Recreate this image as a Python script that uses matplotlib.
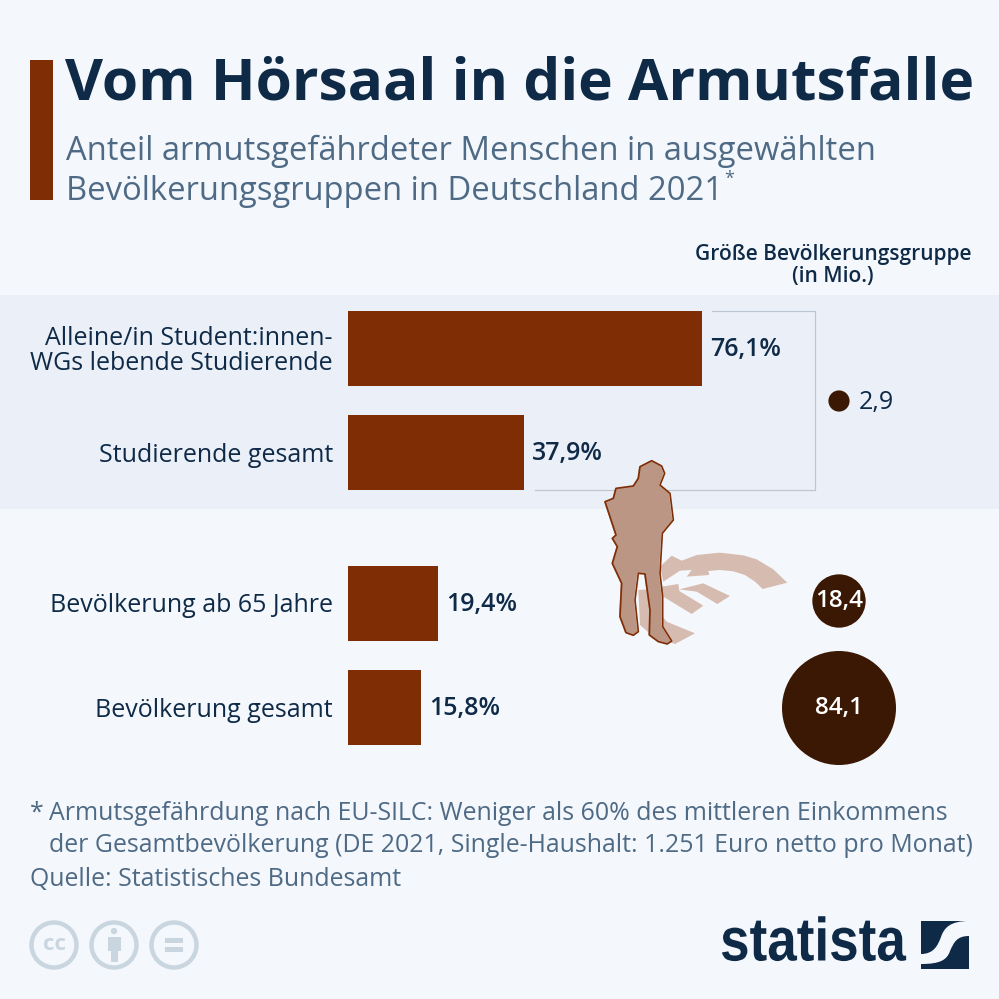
import numpy as np
import matplotlib
matplotlib.use("Agg")
import matplotlib.pyplot as plt
from matplotlib.patches import Polygon, Rectangle, Circle, PathPatch
from matplotlib.path import Path
from matplotlib.patheffects import AbstractPathEffect
from matplotlib.transforms import Affine2D

# ---- data ----
categories = ["Alleine/in Student:innen-\nWGs lebende Studierende", "Studierende gesamt",
              "Bevölkerung ab 65 Jahre", "Bevölkerung gesamt"]
shares = [76.1, 37.9, 19.4, 15.8]
group_sizes = [2.9, 18.4, 84.1]
size_labels = ["2,9", "18,4", "84,1"]
title = "Vom Hörsaal in die Armutsfalle"
subtitle = ["Anteil armutsgefährdeter Menschen in ausgewählten", "Bevölkerungsgruppen in Deutschland 2021"]
size_header = "Größe Bevölkerungsgruppe\n(in Mio.)"
notes = ["Armutsgefährdung nach EU-SILC: Weniger als 60% des mittleren Einkommens",
         "der Gesamtbevölkerung (DE 2021, Single-Haushalt: 1.251 Euro netto pro Monat)",
         "Quelle: Statistisches Bundesamt"]

BG = "#f4f8fc"; BAND = "#ebf0f8"; BAR = "#7f2d04"; DARK = "#3a1803"
NAVY = "#0f2a47"; SLATE = "#4f6a85"; LINE = "#bcc7d3"; CC = "#c9d6df"; TAN = "#bc9684"; TAN2 = "#d6bcb0"

plt.rcParams["font.family"] = ["Open Sans", "DejaVu Sans"]
fig = plt.figure(figsize=(9.99, 9.99), dpi=100, facecolor=BG)

ax = fig.add_axes([0, 0, 1, 1])
ax.set_xlim(0, 999); ax.set_ylim(999, 0); ax.axis("off")

ax.add_patch(Rectangle((0, 295), 999, 214, fc=BAND, ec="none", zorder=0))
ax.add_patch(Rectangle((30, 60), 23, 140, fc=BAR, ec="none"))

ax.text(65, 85, title, fontsize=42.1, fontweight="bold", color=NAVY, va="center", ha="left")
ax.text(66, 151, subtitle[0], fontsize=23.55, color=SLATE, va="center", ha="left")
ax.text(66, 191, subtitle[1], fontsize=23.55, color=SLATE, va="center", ha="left")
ax.text(724, 179, "*", fontsize=13, color=SLATE, va="center", ha="left")
ax.text(833, 265.5, size_header, fontsize=15.0, fontweight="semibold", color=NAVY, va="center",
        ha="center", linespacing=1.1)

# bracket joining the two student rows
ax.plot([712, 815, 815, 535], [311, 311, 490, 490], color=LINE, lw=0.9, zorder=1)

# silhouette and euro shadow, coordinates scaled from a crop at (580,440)
def px(pts, dx=0):
    return [(580 + x / 3 + dx, 440 + y / 3) for x, y in pts]

euro = [
    [(275,347),(305,362),(350,345),(420,338),(490,346),(530,358),(580,388),(622,428),(548,447),(525,425),(495,405),(460,394),(420,390),(385,393),(388,405),(320,410),(335,390),(300,392),(250,425),(240,380)],
    [(298,448),(370,430),(450,468),(412,492),(350,455)],
    [(245,440),(295,432),(298,453),(370,497),(335,522),(250,470)],
    [(175,450),(240,445),(240,520),(260,545),(345,580),(285,612),(220,590),(180,555)],
]
for poly in euro:
    ax.add_patch(Polygon(px(poly), closed=True, fc=TAN2, ec="none", zorder=2))

person = [(215,62),(245,78),(254,100),(240,135),(270,160),(280,240),(247,280),(240,400),(248,470),
          (248,560),(275,603),(262,612),(235,605),(208,585),(210,510),(195,402),(175,400),(165,480),
          (175,575),(160,586),(138,578),(120,530),(125,430),(97,370),(112,320),(97,295),(108,285),
          (75,185),(100,175),(108,145),(160,138),(175,115),(180,80)]
ax.add_patch(Polygon(px(person), closed=True, fc="#f8f3f0", ec="none", zorder=3))
ax.add_patch(Polygon(px(person, dx=-1.0), closed=True, fc=TAN, ec="none", zorder=4))
ax.add_patch(Polygon(px(person), closed=True, fc="none", ec=BAR, lw=1.2, joinstyle="round", zorder=5))

# bars on a real percentage axis
bar_ax = fig.add_axes([347.5 / 999, 0, 465.2 / 999, 1])
bar_ax.set_xlim(0, 100); bar_ax.set_ylim(999, 0); bar_ax.axis("off")
bar_ax.patch.set_alpha(0)
rows = [348, 452.5, 603, 707.5]
bar_ax.barh(rows, shares, height=75, color=BAR, zorder=2)
for y, v, c in zip(rows, shares, categories):
    bar_ax.annotate(f"{v:.1f}%".replace(".", ","), (v, y), xytext=(6.0, -1), textcoords="offset points",
                    fontsize=18.0, fontweight="semibold", color=NAVY, va="center", ha="left")
    bar_ax.annotate(c, (0, y), xytext=(-10.5, -2), textcoords="offset points", fontsize=18.0, color=NAVY,
                    va="center", ha="right", linespacing=1.02)

# bubbles: area proportional to group size
bubble_xy = [(839, 401), (839, 601), (839, 708)]
k = 57 / np.sqrt(group_sizes[2])
for (x, y), v, lab in zip(bubble_xy, group_sizes, size_labels):
    ax.add_patch(Circle((x, y), k * np.sqrt(v), fc=DARK, ec="none", zorder=2))
    if v < 5:
        ax.text(859, y + 1, lab, fontsize=18, color=NAVY, va="center", ha="left", fontweight="medium")
    else:
        ax.text(x, y, lab, fontsize=17.5, color="white", va="center", ha="center",
                fontweight="semibold", zorder=3)

# footnotes
ax.text(30, 813, "*", fontsize=17.88, color=SLATE, va="center", ha="left")
ax.text(49, 813, notes[0], fontsize=17.88, color=SLATE, va="center", ha="left")
ax.text(49, 845, notes[1], fontsize=17.88, color=SLATE, va="center", ha="left")
ax.text(30, 879, notes[2], fontsize=17.88, color=SLATE, va="center", ha="left")

# licence icons
for cx in (54, 114, 174):
    ax.add_patch(Circle((cx, 945), 22.5, fc="none", ec=CC, lw=3.2))
ax.text(54, 944, "cc", fontsize=16, fontweight="bold", color=CC, va="center", ha="center")
ax.add_patch(Circle((114, 931), 3.2, fc=CC, ec="none"))
ax.add_patch(Rectangle((107.5, 937), 13, 14, fc=CC, ec="none"))
ax.add_patch(Rectangle((110.5, 950), 7, 12, fc=CC, ec="none"))
ax.add_patch(Rectangle((165, 938), 18, 5, fc=CC, ec="none"))
ax.add_patch(Rectangle((165, 947), 18, 5, fc=CC, ec="none"))

# statista logo: real text, drawn narrower through a path effect
class Squeeze(AbstractPathEffect):
    def __init__(self, cx, sx):
        super().__init__()
        self.cx, self.sx = cx, sx
    def draw_path(self, renderer, gc, tpath, affine, rgbFace=None):
        a = affine + Affine2D().translate(-self.cx, 0).scale(self.sx, 1).translate(self.cx, 0)
        renderer.draw_path(gc, tpath, a, rgbFace)

ax.text(813, 945, "statista", fontsize=44, fontweight="bold", family=["Liberation Sans"],
        color=NAVY, va="center", ha="center", path_effects=[Squeeze(813, 0.868)])
ax.add_patch(Rectangle((921, 921), 48, 48, fc=NAVY, ec="none"))
swoosh = Path([(921, 954), (934, 954), (938, 945), (941, 937), (944, 928), (950, 921), (969, 921),
               (969, 936), (957, 936), (954, 942), (950, 951), (947, 960), (940, 964), (921, 964), (921, 954)],
              [Path.MOVETO, Path.CURVE4, Path.CURVE4, Path.CURVE4, Path.CURVE4, Path.CURVE4, Path.LINETO,
               Path.LINETO, Path.CURVE4, Path.CURVE4, Path.CURVE4, Path.CURVE4, Path.CURVE4, Path.CURVE4, Path.CLOSEPOLY])
ax.add_patch(PathPatch(swoosh, fc=BG, ec="none"))

fig.savefig("out.png", dpi=100, facecolor=BG)
